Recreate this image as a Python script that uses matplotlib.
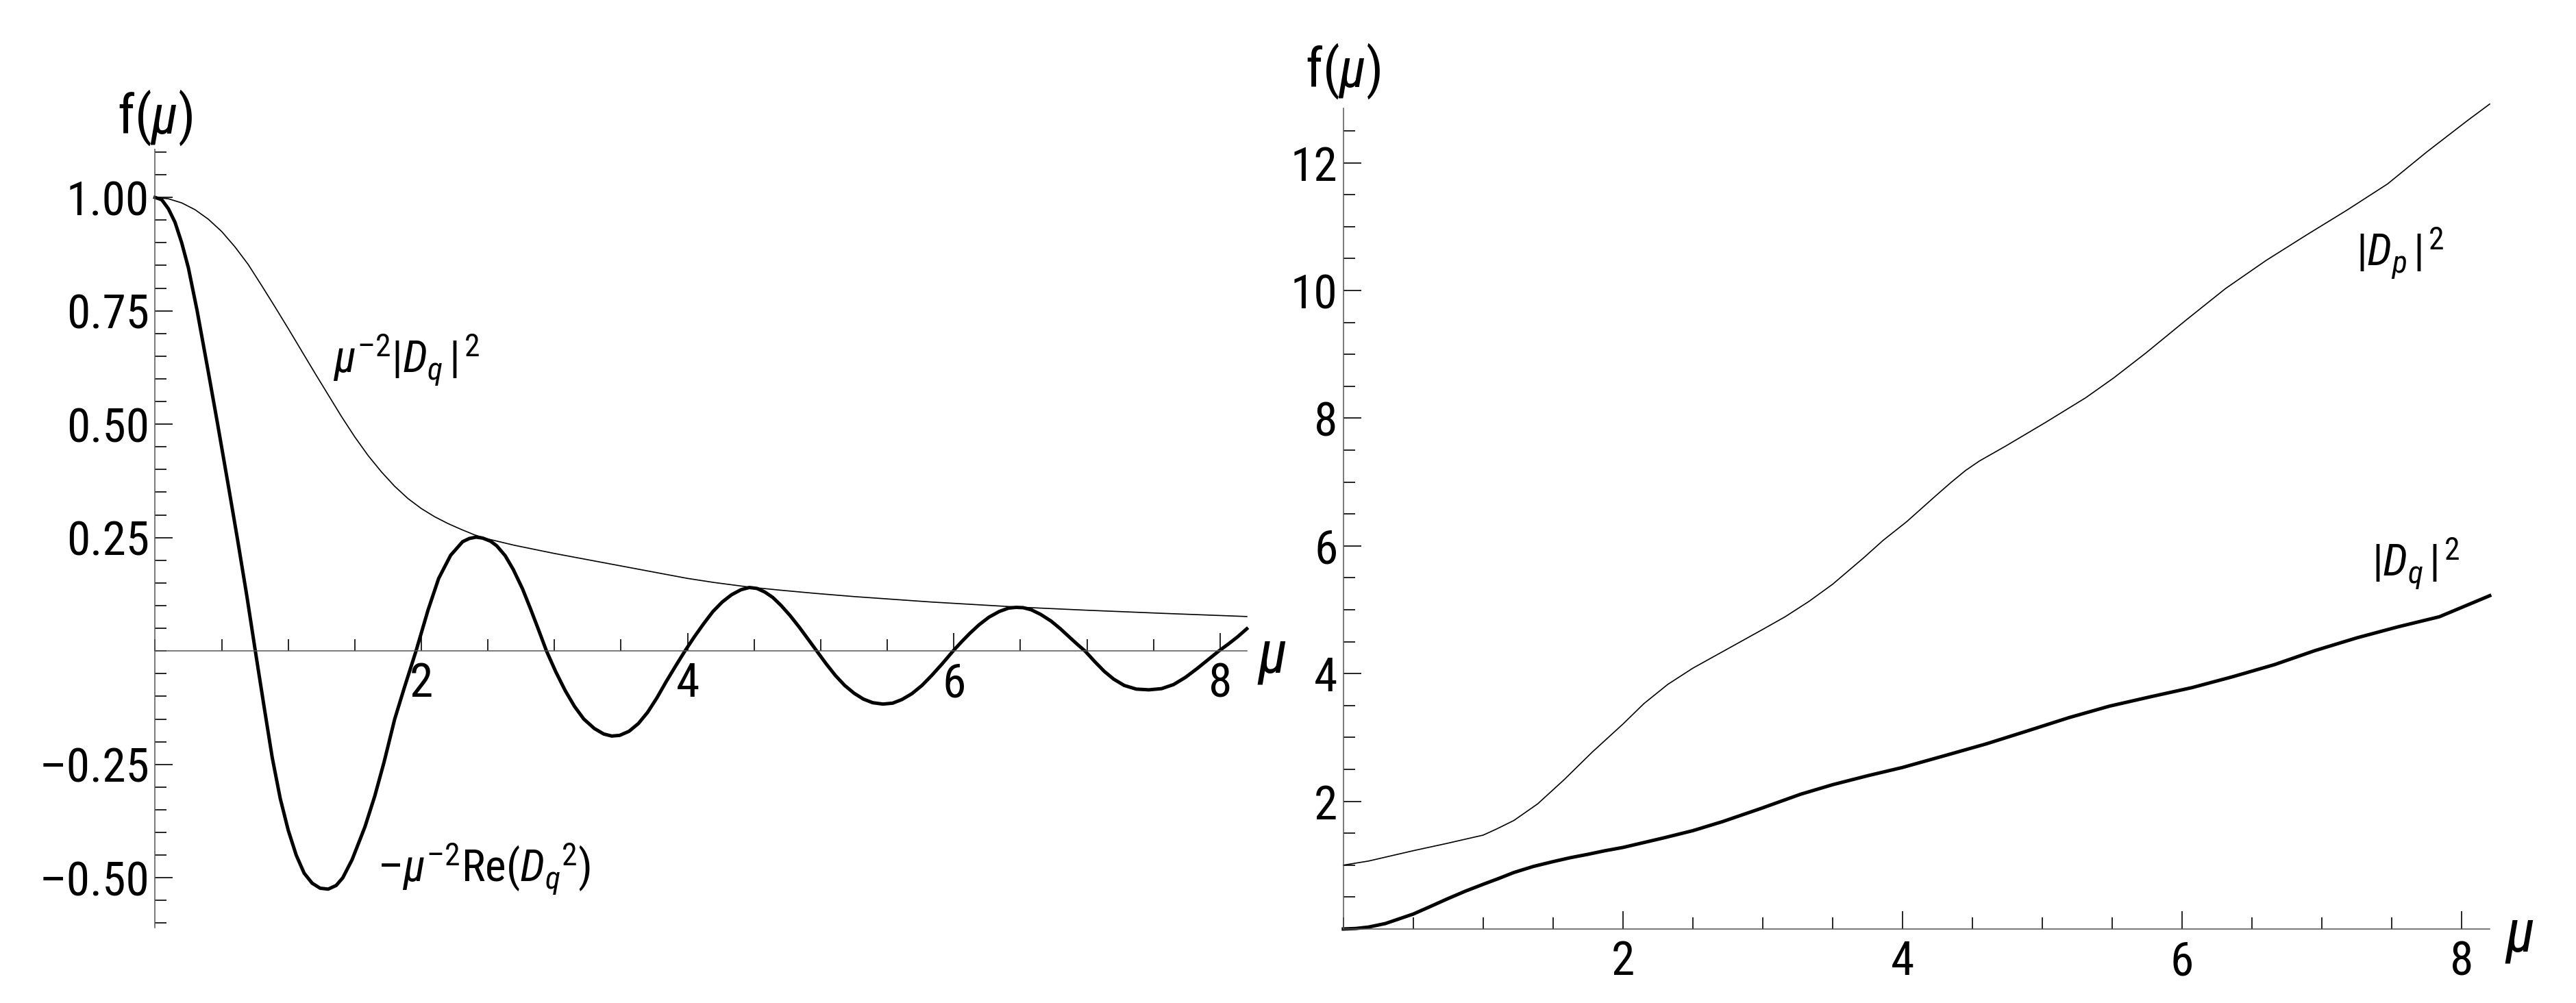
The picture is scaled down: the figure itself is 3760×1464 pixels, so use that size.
import matplotlib
matplotlib.use('Agg')
import matplotlib.pyplot as plt
from matplotlib import font_manager
from matplotlib.ticker import FixedLocator, FixedFormatter, MultipleLocator

_all = {_f.name for _f in font_manager.fontManager.ttflist}


def _pick(*names):
    for n in names:
        if n in _all:
            return n
    return 'Liberation Sans'


FONT = _pick('Roboto Condensed', 'Archivo Narrow', 'PT Sans Narrow', 'Liberation Sans')
_has_italic = any(f.name == FONT and f.style == 'italic' for f in font_manager.fontManager.ttflist)

plt.rcParams['font.family'] = [FONT, 'DejaVu Sans']
plt.rcParams['mathtext.fontset'] = 'custom'
plt.rcParams['mathtext.rm'] = FONT
plt.rcParams['mathtext.it'] = FONT + (':italic' if _has_italic else '')
plt.rcParams['mathtext.bf'] = FONT + ':bold'

# ---------------- data: left panel ----------------
env_mu = [0.0, 0.1, 0.2, 0.3, 0.4, 0.5, 0.6, 0.7, 0.8, 0.9, 1.0, 1.1, 1.2, 1.3, 1.4, 1.5,
          1.6, 1.7, 1.8, 1.9, 2.0, 2.1, 2.2, 2.3, 2.4, 2.5, 2.6, 2.7, 2.8, 2.9, 3.0, 3.2,
          3.4, 3.6, 3.8, 4.0, 4.2, 4.46, 4.7, 4.96, 5.25, 5.54, 5.83, 6.12, 6.47, 6.99,
          7.57, 8.20]
env_f = [1.000, 0.997, 0.988, 0.973, 0.952, 0.925, 0.891, 0.852, 0.806, 0.759, 0.711, 0.662,
         0.613, 0.565, 0.517, 0.472, 0.431, 0.395, 0.363, 0.336, 0.314, 0.296, 0.281, 0.268,
         0.256, 0.247, 0.240, 0.233, 0.227, 0.221, 0.215, 0.204, 0.193, 0.182, 0.171, 0.160,
         0.151, 0.141, 0.134, 0.127, 0.120, 0.114, 0.108, 0.103, 0.097, 0.090, 0.083, 0.076]

re_mu = [0.00, 0.05, 0.10, 0.15, 0.20, 0.25, 0.316, 0.40, 0.47, 0.55, 0.617, 0.69, 0.753,
         0.82, 0.88, 0.94, 1.00, 1.06, 1.12, 1.18, 1.24, 1.30, 1.36, 1.41, 1.48, 1.576,
         1.65, 1.72, 1.80, 1.87, 1.96, 2.05, 2.13, 2.22, 2.31, 2.36, 2.41, 2.46, 2.52, 2.566,
         2.63, 2.69, 2.76, 2.82, 2.88, 2.94, 3.01, 3.08, 3.15, 3.22, 3.30, 3.37, 3.43, 3.49,
         3.56, 3.63, 3.70, 3.77, 3.84, 3.91, 3.98, 4.05, 4.12, 4.19, 4.26, 4.33, 4.40, 4.463,
         4.52, 4.58, 4.64, 4.70, 4.77, 4.84, 4.90, 4.97, 5.04, 5.11, 5.18, 5.25, 5.32, 5.39,
         5.467, 5.54, 5.61, 5.685, 5.76, 5.83, 5.91, 5.994, 6.06, 6.12, 6.19, 6.263, 6.34,
         6.41, 6.466, 6.52, 6.58, 6.65, 6.73, 6.80, 6.87, 6.93, 6.985, 7.06, 7.13, 7.20,
         7.28, 7.37, 7.465, 7.56, 7.65, 7.74, 7.83, 7.91, 7.99, 8.06, 8.13, 8.20]
re_f = [1.000, 0.995, 0.975, 0.945, 0.900, 0.845, 0.750, 0.615, 0.500, 0.365, 0.250, 0.120, 0.000,
        -0.125, -0.235, -0.325, -0.395, -0.450, -0.490, -0.512, -0.523, -0.525, -0.517, -0.500, -0.460, -0.388,
        -0.320, -0.245, -0.150, -0.083, 0.000, 0.090, 0.160, 0.211, 0.241, 0.248, 0.251, 0.249, 0.242, 0.232,
        0.210, 0.180, 0.137, 0.093, 0.047, 0.000, -0.046, -0.087, -0.122, -0.150, -0.171, -0.183, -0.1875, -0.186,
        -0.177, -0.160, -0.135, -0.103, -0.067, -0.033, 0.000, 0.031, 0.060, 0.087, 0.108, 0.124, 0.135, 0.140,
        0.138, 0.130, 0.118, 0.101, 0.078, 0.052, 0.028, 0.000, -0.028, -0.054, -0.076, -0.093, -0.106, -0.114,
        -0.117, -0.115, -0.107, -0.094, -0.076, -0.055, -0.029, 0.000, 0.021, 0.039, 0.058, 0.0745, 0.087,
        0.0945, 0.0962, 0.0955, 0.091, 0.081, 0.066, 0.049, 0.030, 0.014, 0.000, -0.024, -0.045, -0.062,
        -0.076, -0.084, -0.0856, -0.083, -0.074, -0.058, -0.038, -0.019, 0.000, 0.015, 0.031, 0.049]

# ---------------- data: right panel ----------------
dp_mu = [0.00, 0.18, 0.50, 0.74, 0.86, 1.00, 1.10, 1.22, 1.39, 1.58, 1.78, 2.00, 2.15, 2.32,
         2.50, 2.71, 2.99, 3.16, 3.33, 3.50, 3.72, 3.86, 4.03, 4.24, 4.35, 4.45, 4.55, 4.735,
         5.02, 5.31, 5.51, 5.74, 6.03, 6.31, 6.60, 6.89, 7.18, 7.47, 7.75, 8.04, 8.20]
dp_f = [1.000, 1.064, 1.226, 1.34, 1.40, 1.47, 1.57, 1.70, 1.96, 2.34, 2.77, 3.21, 3.53, 3.83,
        4.085, 4.34, 4.68, 4.89, 5.13, 5.40, 5.81, 6.085, 6.38, 6.79, 7.00, 7.18, 7.33, 7.56,
        7.93, 8.32, 8.63, 9.02, 9.54, 10.03, 10.47, 10.87, 11.26, 11.67, 12.17, 12.66, 12.92]

dq_mu = [0.00, 0.09, 0.18, 0.30, 0.50, 0.62, 0.74, 0.87, 1.00, 1.11, 1.22, 1.36, 1.50, 1.62,
         1.75, 1.87, 2.00, 2.29, 2.50, 2.71, 2.99, 3.27, 3.50, 3.75, 4.00, 4.31, 4.60, 4.89,
         5.19, 5.48, 5.78, 6.07, 6.36, 6.66, 6.95, 7.25, 7.54, 7.84, 8.20]
dq_f = [0.000, 0.008, 0.030, 0.085, 0.234, 0.350, 0.468, 0.590, 0.700, 0.790, 0.885, 0.980,
        1.055, 1.115, 1.17, 1.225, 1.277, 1.426, 1.54, 1.68, 1.89, 2.11, 2.26, 2.40, 2.53,
        2.72, 2.90, 3.10, 3.31, 3.49, 3.64, 3.78, 3.95, 4.14, 4.36, 4.56, 4.73, 4.89, 5.22]

# ---------------- tick labels ----------------
left_yticks = [-0.50, -0.25, 0.25, 0.50, 0.75, 1.00]
left_ylabels = ['\u20130.50', '\u20130.25', '0.25', '0.50', '0.75', '1.00']
x_ticks = [2, 4, 6, 8]
x_labels = ['2', '4', '6', '8']
right_yticks = [2, 4, 6, 8, 10, 12]
right_ylabels = ['2', '4', '6', '8', '10', '12']

fig = plt.figure(figsize=(18.8, 7.32), dpi=200)
ax1 = fig.add_axes([0.0602, 0.0751, 0.4238, 0.776])
ax2 = fig.add_axes([0.5215, 0.0738, 0.445, 0.818])

AX_COL = '#555555'
TICK_FS = 25
ANN_FS = 23.5


def style(ax, xlim, ylim, yticks, ylabels, yminor):
    ax.set_xlim(*xlim)
    ax.set_ylim(*ylim)
    for s in ['top', 'right']:
        ax.spines[s].set_visible(False)
    ax.spines['left'].set_position(('data', 0))
    ax.spines['bottom'].set_position(('data', 0))
    for s in ['left', 'bottom']:
        ax.spines[s].set_color(AX_COL)
        ax.spines[s].set_linewidth(0.55)
    ax.xaxis.set_major_locator(FixedLocator(x_ticks))
    ax.xaxis.set_major_formatter(FixedFormatter(x_labels))
    ax.xaxis.set_minor_locator(MultipleLocator(0.5))
    ax.yaxis.set_major_locator(FixedLocator(yticks))
    ax.yaxis.set_major_formatter(FixedFormatter(ylabels))
    ax.yaxis.set_minor_locator(MultipleLocator(yminor))
    ax.tick_params(axis='both', which='major', direction='in', length=9.5, width=0.6,
                   color='black', labelsize=TICK_FS)
    ax.tick_params(axis='both', which='minor', direction='in', length=6, width=0.6,
                   color='black')
    ax.tick_params(axis='x', which='major', pad=5.5)
    ax.tick_params(axis='y', which='major', pad=3)
    ax.patch.set_visible(False)


style(ax1, (0, 8.2), (-0.61, 1.106), left_yticks, left_ylabels, 0.05)
style(ax2, (0, 8.2), (0, 12.85), right_yticks, right_ylabels, 0.5)

# left curves
ax1.plot(env_mu, env_f, color='black', lw=0.6, solid_joinstyle='round', clip_on=False)
ax1.plot(re_mu, re_f, color='black', lw=1.8, solid_joinstyle='round', clip_on=False)
ax1.text(1.89, 0.642, '$\\mu^{\u20132}|D_q\\,|^{\\,2}$', fontsize=ANN_FS, ha='center', va='center')
ax1.text(2.47, -0.48, '$\u2013\\mu^{\u20132}\\mathrm{Re}(D_q{}^2)$', fontsize=ANN_FS,
         ha='center', va='center')

# right curves
ax2.plot(dp_mu, dp_f, color='black', lw=0.6, solid_joinstyle='round', clip_on=False)
ax2.plot(dq_mu, dq_f, color='black', lw=1.8, solid_joinstyle='round', clip_on=False)
ax2.text(7.56, 10.59, r'$|D_p\,|^{\,2}$', fontsize=ANN_FS, ha='center', va='center')
ax2.text(7.67, 5.73, r'$|D_q\,|^{\,2}$', fontsize=ANN_FS, ha='center', va='center')

# axis labels
fig.text(0.0601, 0.883, r'$\mathrm{f}(\mu)$', fontsize=28.5, ha='center', va='center')
fig.text(0.5213, 0.929, r'$\mathrm{f}(\mu)$', fontsize=28.5, ha='center', va='center')
fig.text(0.4936, 0.3436, r'$\mu$', fontsize=31, ha='center', va='center')
fig.text(0.978, 0.066, r'$\mu$', fontsize=31, ha='center', va='center')

fig.savefig('out.png', dpi=200, facecolor='white')
